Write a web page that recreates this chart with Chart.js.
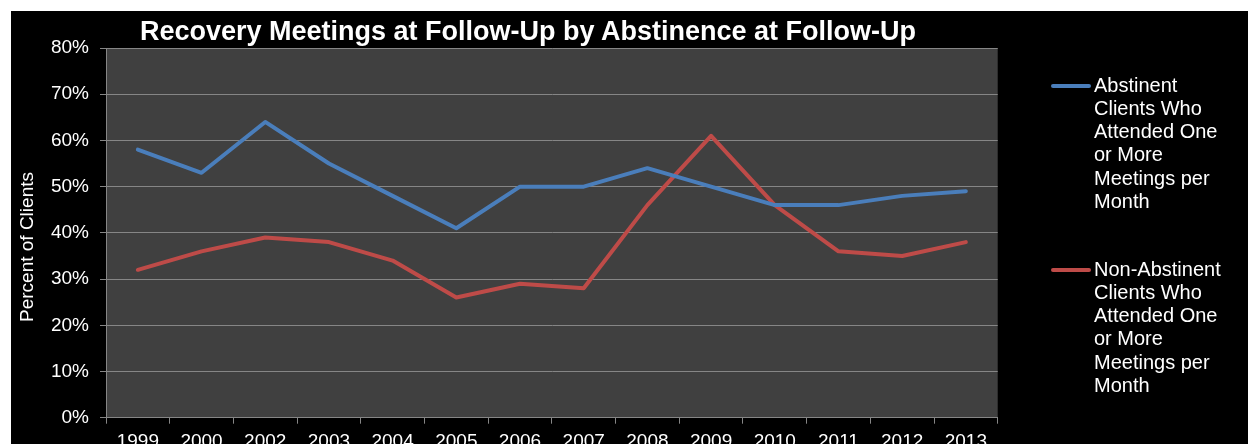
<!DOCTYPE html>
<html>
<head>
<meta charset="utf-8">
<script src="https://cdn.jsdelivr.net/npm/chart.js@4.4.1/dist/chart.umd.min.js"></script>
<style>
  html, body { margin: 0; padding: 0; background: #ffffff; width: 1248px; height: 444px; overflow: hidden; }
  #frame { position: absolute; left: 11px; top: 11px; width: 1237px; height: 433px; background: #000000; overflow: hidden; }
  #c { position: absolute; left: 0; top: 0; }
  .txt { font-family: "Liberation Sans", Arial, sans-serif; color: #ffffff; position: absolute; }
  #title { left: -11px; width: 1056px; top: 7px; text-align: center; font-weight: bold; font-size: 27px; line-height: 26px; white-space: nowrap; }
  #ytitle { font-size: 19px; line-height: 22px; white-space: nowrap; width: 300px; text-align: center;
            left: calc(27px - 11px - 150px); top: calc(247px - 11px - 11px); transform: rotate(-90deg); transform-origin: 50% 50%; }
  .legline { position: absolute; width: 40px; height: 4px; border-radius: 2px; }
  .legtext { font-size: 20px; line-height: 23.3px; white-space: nowrap; }
</style>
</head>
<body>
<div id="frame">
  <canvas id="c" width="1237" height="433"></canvas>
  <div id="title" class="txt"></div>
  <div id="ytitle" class="txt"></div>
  <div id="legend"></div>
</div>
<script>
const chartTitle = "Recovery Meetings at Follow-Up by Abstinence at Follow-Up";
const yAxisTitle = "Percent of Clients";
const years = ["1999", "2000", "2002", "2003", "2004", "2005", "2006", "2007", "2008", "2009", "2010", "2011", "2012", "2013"];
const abstinentLabel = ["Abstinent", "Clients Who", "Attended One", "or More", "Meetings per", "Month"];
const abstinentValues = [58, 53, 64, 55, 48, 41, 50, 50, 54, 50, 46, 46, 48, 49];
const nonAbstinentLabel = ["Non-Abstinent", "Clients Who", "Attended One", "or More", "Meetings per", "Month"];
const nonAbstinentValues = [32, 36, 39, 38, 34, 26, 29, 28, 46, 61, 46, 36, 35, 38];
const yTicks = [0, 10, 20, 30, 40, 50, 60, 70, 80];

const blue = "#4A7EBB";
const red = "#BE4B48";
const gridColor = "#868686";
const font = "'Liberation Sans', Arial, sans-serif";

document.getElementById("title").textContent = chartTitle;
document.getElementById("ytitle").textContent = yAxisTitle;

// HTML legend
const legend = document.getElementById("legend");
function addLegend(lines, color, lineCenterY) {
  const ln = document.createElement("div");
  ln.className = "legline";
  ln.style.background = color;
  ln.style.left = (1051 - 11) + "px";
  ln.style.top = (lineCenterY - 11 - 2) + "px";
  legend.appendChild(ln);
  const t = document.createElement("div");
  t.className = "txt legtext";
  t.style.left = (1094 - 11) + "px";
  t.style.top = (lineCenterY - 11 - 12.5) + "px";
  t.innerHTML = lines.map(s => s.replace(/&/g, "&amp;").replace(/</g, "&lt;")).join("<br>");
  legend.appendChild(t);
}
addLegend(abstinentLabel, blue, 86);
addLegend(nonAbstinentLabel, red, 270);

const plotBg = {
  id: "plotBg",
  beforeDraw(chart) {
    const a = chart.chartArea;
    const ctx = chart.ctx;
    ctx.save();
    ctx.fillStyle = "#404040";
    ctx.fillRect(a.left, a.top, a.right - a.left, a.bottom - a.top);
    ctx.restore();
  }
};

new Chart(document.getElementById("c"), {
  type: "line",
  data: {
    labels: years,
    datasets: [
      { label: abstinentLabel.join(" "), data: abstinentValues, borderColor: blue, backgroundColor: blue },
      { label: nonAbstinentLabel.join(" "), data: nonAbstinentValues, borderColor: red, backgroundColor: red }
    ]
  },
  options: {
    responsive: false,
    animation: false,
    devicePixelRatio: 1,
    elements: {
      line: { borderWidth: 4, tension: 0, borderCapStyle: "round", borderJoinStyle: "round", fill: false },
      point: { radius: 0, hoverRadius: 0 }
    },
    layout: { padding: { left: 0, top: 37, right: 250.3, bottom: 0 } },
    plugins: {
      legend: { display: false },
      title: { display: false },
      tooltip: { enabled: false }
    },
    scales: {
      x: {
        offset: true,
        afterFit(scale) { scale.height = 26.3; },
        grid: { offset: true, drawOnChartArea: false, drawTicks: true, tickLength: 6, color: gridColor, lineWidth: 1 },
        border: { display: true, color: gridColor, width: 1 },
        ticks: { color: "#ffffff", font: { family: font, size: 19 }, padding: 7, maxRotation: 0, autoSkip: false }
      },
      y: {
        min: 0,
        max: 80,
        afterFit(scale) { scale.width = 95; },
        afterBuildTicks(scale) { scale.ticks = yTicks.map(v => ({ value: v })); },
        grid: { drawTicks: true, tickLength: 6, color: gridColor, lineWidth: 1 },
        border: { display: true, color: gridColor, width: 1 },
        ticks: { color: "#ffffff", font: { family: font, size: 19 }, padding: 11, callback: v => v + "%" },
        title: { display: false }
      }
    }
  },
  plugins: [plotBg]
});
</script>
</body>
</html>
